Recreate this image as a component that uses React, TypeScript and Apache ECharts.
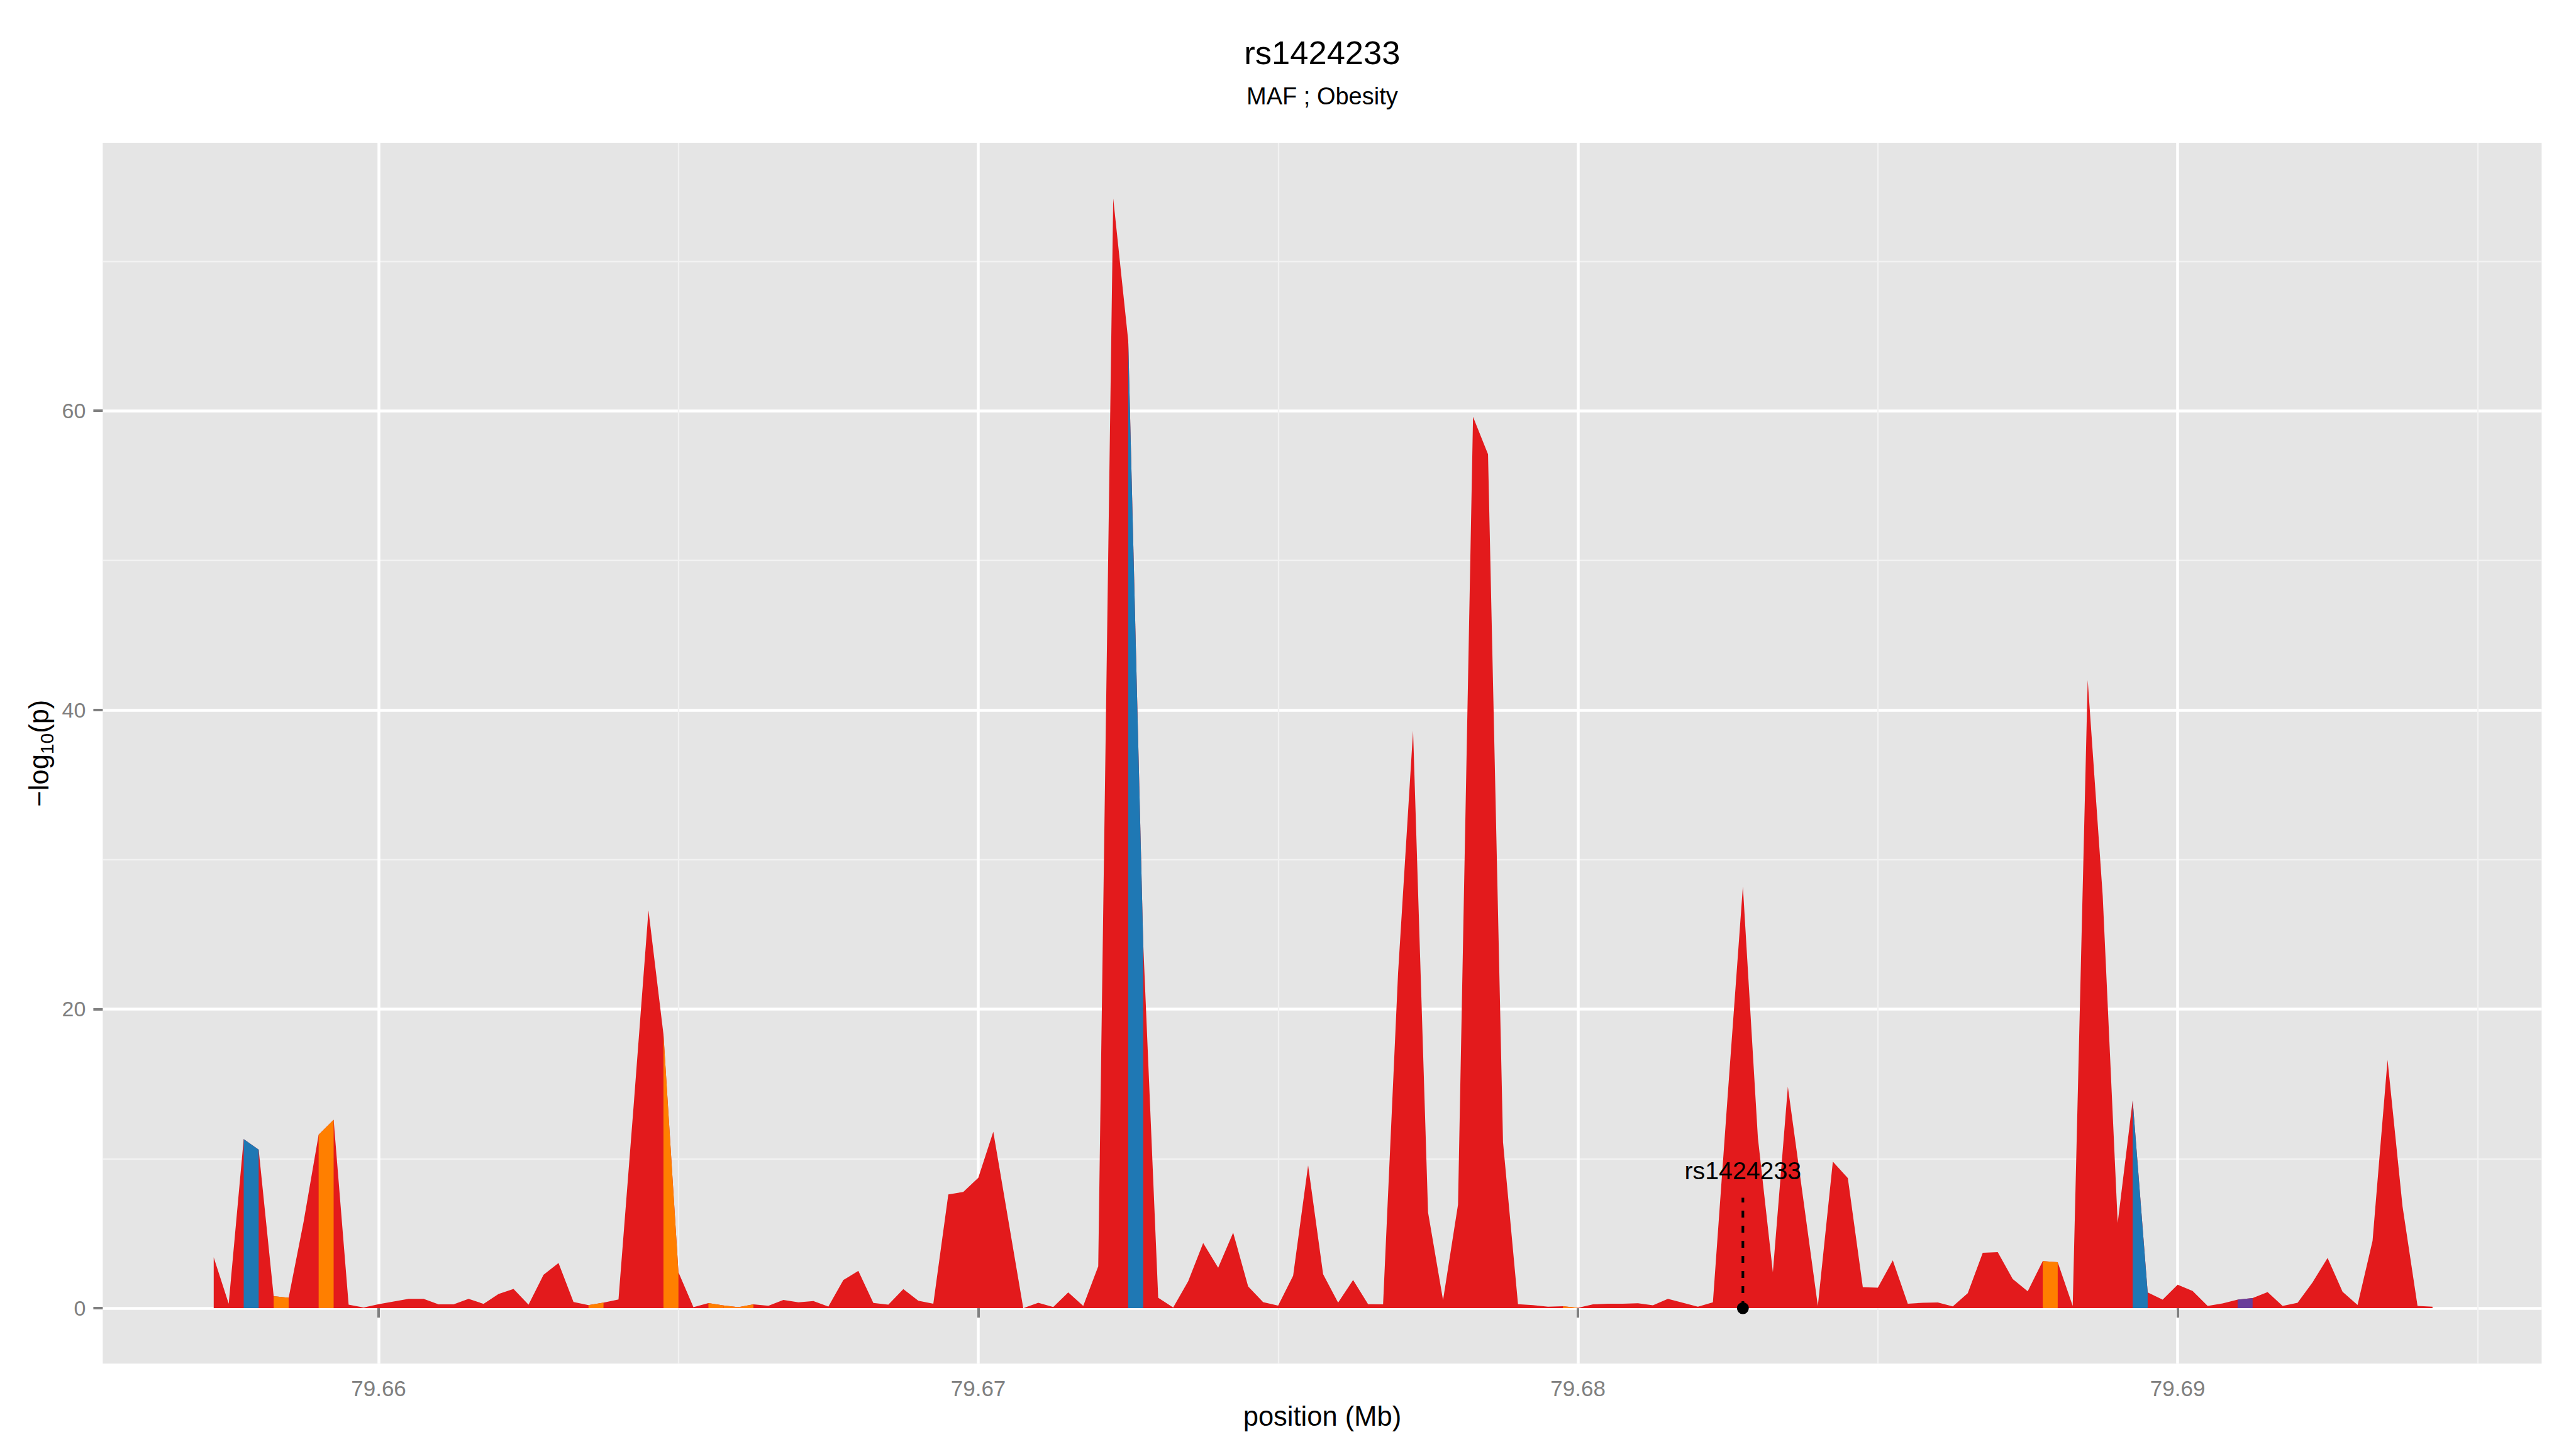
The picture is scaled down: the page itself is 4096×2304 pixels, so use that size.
import React, { useEffect, useRef } from "react";
import * as echarts from "echarts";

// SNP positions (Mb)
const positions = [
  79.65725, 79.6575, 79.65775, 79.658,
  79.65825, 79.6585, 79.65875, 79.659,
  79.65925, 79.6595, 79.65975, 79.66,
  79.66025, 79.6605, 79.66075, 79.661,
  79.66125, 79.6615, 79.66175, 79.662,
  79.66225, 79.6625, 79.66275, 79.663,
  79.66325, 79.6635, 79.66375, 79.664,
  79.66425, 79.6645, 79.66475, 79.665,
  79.66525, 79.6655, 79.66575, 79.666,
  79.66625, 79.6665, 79.66675, 79.667,
  79.66725, 79.6675, 79.66775, 79.668,
  79.66825, 79.6685, 79.66875, 79.669,
  79.66925, 79.6695, 79.66975, 79.67,
  79.67025, 79.6705, 79.67075, 79.671,
  79.67125, 79.6715, 79.67175, 79.672,
  79.67225, 79.6725, 79.67275, 79.673,
  79.67325, 79.6735, 79.67375, 79.674,
  79.67425, 79.6745, 79.67475, 79.675,
  79.67525, 79.6755, 79.67575, 79.676,
  79.67625, 79.6765, 79.67675, 79.677,
  79.67725, 79.6775, 79.67775, 79.678,
  79.67825, 79.6785, 79.67875, 79.679,
  79.67925, 79.6795, 79.67975, 79.68,
  79.68025, 79.6805, 79.68075, 79.681,
  79.68125, 79.6815, 79.68175, 79.682,
  79.68225, 79.6825, 79.68275, 79.683,
  79.68325, 79.6835, 79.68375, 79.684,
  79.68425, 79.6845, 79.68475, 79.685,
  79.68525, 79.6855, 79.68575, 79.686,
  79.68625, 79.6865, 79.68675, 79.687,
  79.68725, 79.6875, 79.68775, 79.688,
  79.68825, 79.6885, 79.68875, 79.689,
  79.68925, 79.6895, 79.68975, 79.69,
  79.69025, 79.6905, 79.69075, 79.691,
  79.69125, 79.6915, 79.69175, 79.692,
  79.69225, 79.6925, 79.69275, 79.693,
  79.69325, 79.6935, 79.69375, 79.694,
  79.69425,
];

// -log10(p) at each position
const logP = [
  3.4, 0.3, 11.3, 10.6,
  0.8, 0.7, 5.8, 11.6,
  12.6, 0.23, 0.04, 0.27,
  0.44, 0.62, 0.62, 0.26,
  0.26, 0.62, 0.29, 0.95,
  1.29, 0.23, 2.23, 3.02,
  0.41, 0.2, 0.37, 0.58,
  13.4, 26.6, 18.3, 2.4,
  0.07, 0.34, 0.18, 0.07,
  0.25, 0.16, 0.55, 0.39,
  0.48, 0.11, 1.88, 2.49,
  0.35, 0.23, 1.28, 0.5,
  0.3, 7.6, 7.77, 8.72,
  11.8, 5.9, 0, 0.36,
  0.08, 1.05, 0.15, 2.8,
  74.2, 64.7, 24.4, 0.7,
  0.05, 1.8, 4.35, 2.7,
  5.05, 1.45, 0.4, 0.17,
  2.17, 9.55, 2.27, 0.37,
  1.88, 0.27, 0.26, 22.4,
  38.6, 6.4, 0.54, 6.93,
  59.6, 57.1, 11.1, 0.27,
  0.2, 0.1, 0.13, 0.02,
  0.25, 0.3, 0.3, 0.33,
  0.19, 0.62, 0.36, 0.1,
  0.39, 14.4, 28.2, 11.4,
  2.4, 14.8, 7.5, 0.15,
  9.8, 8.7, 1.4, 1.37,
  3.2, 0.3, 0.36, 0.38,
  0.12, 1.0, 3.7, 3.75,
  1.95, 1.13, 3.15, 3.07,
  0.15, 42.0, 27.6, 5.7,
  13.9, 1.05, 0.57, 1.57,
  1.15, 0.15, 0.32, 0.57,
  0.68, 1.07, 0.15, 0.36,
  1.73, 3.36, 1.1, 0.21,
  4.5, 16.6, 6.8, 0.15,
  0.1,
];

// segments (index of the left point) that are not red
const blueSegments = [2, 61, 128];
const orangeSegments = [4, 7, 25, 30, 33, 34, 35, 90, 122];
const purpleSegments = [135];

const xTicks = [79.66, 79.67, 79.68, 79.69];
const yTicks = [0, 20, 40, 60];

const leadSnpName = "rs1424233";
const leadSnpPosition = 79.68275;
const leadSnpLineTop = 7.38;
const leadSnpLabelY = 9.2;

const PALETTE = ["#E31A1C", "#1F78B4", "#FF7F00", "#6A3D9A"];
const FONT = "Liberation Sans, Arial, Helvetica, sans-serif";

function segmentColorIndex(i: number): number {
  if (blueSegments.indexOf(i) >= 0) return 1;
  if (orangeSegments.indexOf(i) >= 0) return 2;
  if (purpleSegments.indexOf(i) >= 0) return 3;
  return 0;
}

export default function App() {
  const ref = useRef<HTMLDivElement>(null);

  useEffect(() => {
    if (!ref.current) return;
    const chart = echarts.init(ref.current, null, { renderer: "svg" });

    const profile = positions.map((p, i) => [p, logP[i]]);
    const segData: number[][] = [];
    for (let i = 0; i < positions.length - 1; i++) {
      const c = segmentColorIndex(i);
      if (c !== 0) {
        segData.push([positions[i], logP[i], positions[i + 1], logP[i + 1], c]);
      }
    }

    const gridLeft = 163.4;
    const gridTop = 227;
    const gridWidth = 3878;
    const gridHeight = 1941.3;

    const option: any = {
      animation: false,
      backgroundColor: "#FFFFFF",
      title: [
        {
          text: "rs1424233",
          left: gridLeft + gridWidth / 2,
          top: 57,
          textAlign: "center",
          padding: 0,
          textStyle: { fontSize: 52.5, fontWeight: "normal", color: "#000000", fontFamily: FONT },
        },
        {
          text: "MAF ; Obesity",
          left: gridLeft + gridWidth / 2,
          top: 134,
          textAlign: "center",
          padding: 0,
          textStyle: { fontSize: 38, fontWeight: "normal", color: "#000000", fontFamily: FONT },
        },
      ],
      grid: {
        left: gridLeft,
        top: gridTop,
        width: gridWidth,
        height: gridHeight,
        show: true,
        backgroundColor: "#E5E5E5",
        borderWidth: 0,
        containLabel: false,
      },
      xAxis: {
        type: "value",
        min: 79.6554,
        max: 79.69607,
        minInterval: 0.01,
        maxInterval: 0.01,
        name: "position (Mb)",
        nameLocation: "middle",
        nameGap: 62,
        nameTextStyle: { fontSize: 43.5, color: "#000000", fontFamily: FONT },
        axisLine: { show: false },
        axisTick: {
          show: true,
          length: 15,
          customValues: xTicks,
          lineStyle: { color: "#7F7F7F", width: 4 },
        },
        axisLabel: {
          customValues: xTicks,
          formatter: (v: number) => v.toFixed(2),
          color: "#7F7F7F",
          fontSize: 35,
          fontFamily: FONT,
          margin: 22,
        },
        splitLine: { show: true, lineStyle: { color: "#FFFFFF", width: 4.5 } },
        minorTick: { show: false, splitNumber: 2 },
        minorSplitLine: { show: true, lineStyle: { color: "#F2F2F2", width: 2.3 } },
      },
      yAxis: {
        type: "value",
        min: -3.71,
        max: 77.92,
        minInterval: 20,
        maxInterval: 20,
        axisLine: { show: false },
        axisTick: {
          show: true,
          length: 15,
          customValues: yTicks,
          lineStyle: { color: "#7F7F7F", width: 4 },
        },
        axisLabel: {
          customValues: yTicks,
          color: "#7F7F7F",
          fontSize: 34,
          fontFamily: FONT,
          margin: 27,
        },
        splitLine: { show: true, lineStyle: { color: "#FFFFFF", width: 4.5 } },
        minorTick: { show: false, splitNumber: 2 },
        minorSplitLine: { show: true, lineStyle: { color: "#F2F2F2", width: 2.3 } },
      },
      graphic: [
        {
          type: "text",
          x: 61.9,
          y: gridTop + gridHeight / 2,
          rotation: Math.PI / 2,
          style: {
            text: "{n|\u2212log}{s|10}{n|(p)}",
            align: "center",
            verticalAlign: "middle",
            fill: "#000000",
            font: `43.5px ${FONT}`,
            rich: {
              n: { fontSize: 43.5, lineHeight: 56, fontFamily: FONT, fill: "#000000" },
              s: { fontSize: 30, lineHeight: 30, fontFamily: FONT, verticalAlign: "bottom", fill: "#000000" },
            },
          },
        },
      ],
      series: [
        {
          type: "line",
          name: "logp",
          z: 2,
          data: profile,
          symbol: "none",
          showSymbol: false,
          lineStyle: { width: 0, color: PALETTE[0] },
          areaStyle: { color: PALETTE[0], opacity: 1, origin: 0 },
          silent: true,
        },
        {
          type: "custom",
          name: "colored segments",
          z: 3,
          encode: { x: [0, 2], y: [1, 3] },
          data: segData,
          renderItem: (params: any, api: any) => {
            const x0 = api.value(0);
            const y0 = api.value(1);
            const x1 = api.value(2);
            const y1 = api.value(3);
            const c = api.value(4);
            const p0 = api.coord([x0, 0]);
            const p1 = api.coord([x0, y0]);
            const p2 = api.coord([x1, y1]);
            const p3 = api.coord([x1, 0]);
            return {
              type: "polygon",
              shape: { points: [p0, p1, p2, p3] },
              style: { fill: PALETTE[c] },
            };
          },
        },
        {
          type: "custom",
          name: "lead",
          z: 4,
          encode: { x: 0, y: 1 },
          data: [[leadSnpPosition, 0, leadSnpLineTop, leadSnpLabelY]],
          renderItem: (params: any, api: any) => {
            const x = api.value(0);
            const base = api.coord([x, api.value(1)]);
            const top = api.coord([x, api.value(2)]);
            const lab = api.coord([x, api.value(3)]);
            return {
              type: "group",
              children: [
                {
                  type: "line",
                  shape: { x1: base[0], y1: base[1], x2: top[0], y2: top[1] },
                  style: { stroke: "#000000", lineWidth: 4.2, lineDash: [11, 13] },
                },
                {
                  type: "circle",
                  shape: { cx: base[0], cy: base[1], r: 9.4 },
                  style: { fill: "#000000" },
                },
                {
                  type: "text",
                  x: lab[0],
                  y: lab[1],
                  style: {
                    text: leadSnpName,
                    align: "center",
                    verticalAlign: "middle",
                    fill: "#000000",
                    font: `39.3px ${FONT}`,
                  },
                },
              ],
            };
          },
        },
      ],
    };

    chart.setOption(option);
    return () => chart.dispose();
  }, []);

  return (
    <div
      ref={ref}
      style={{ position: "absolute", left: 0, top: 0, width: 4096, height: 2304 }}
    />
  );
}
